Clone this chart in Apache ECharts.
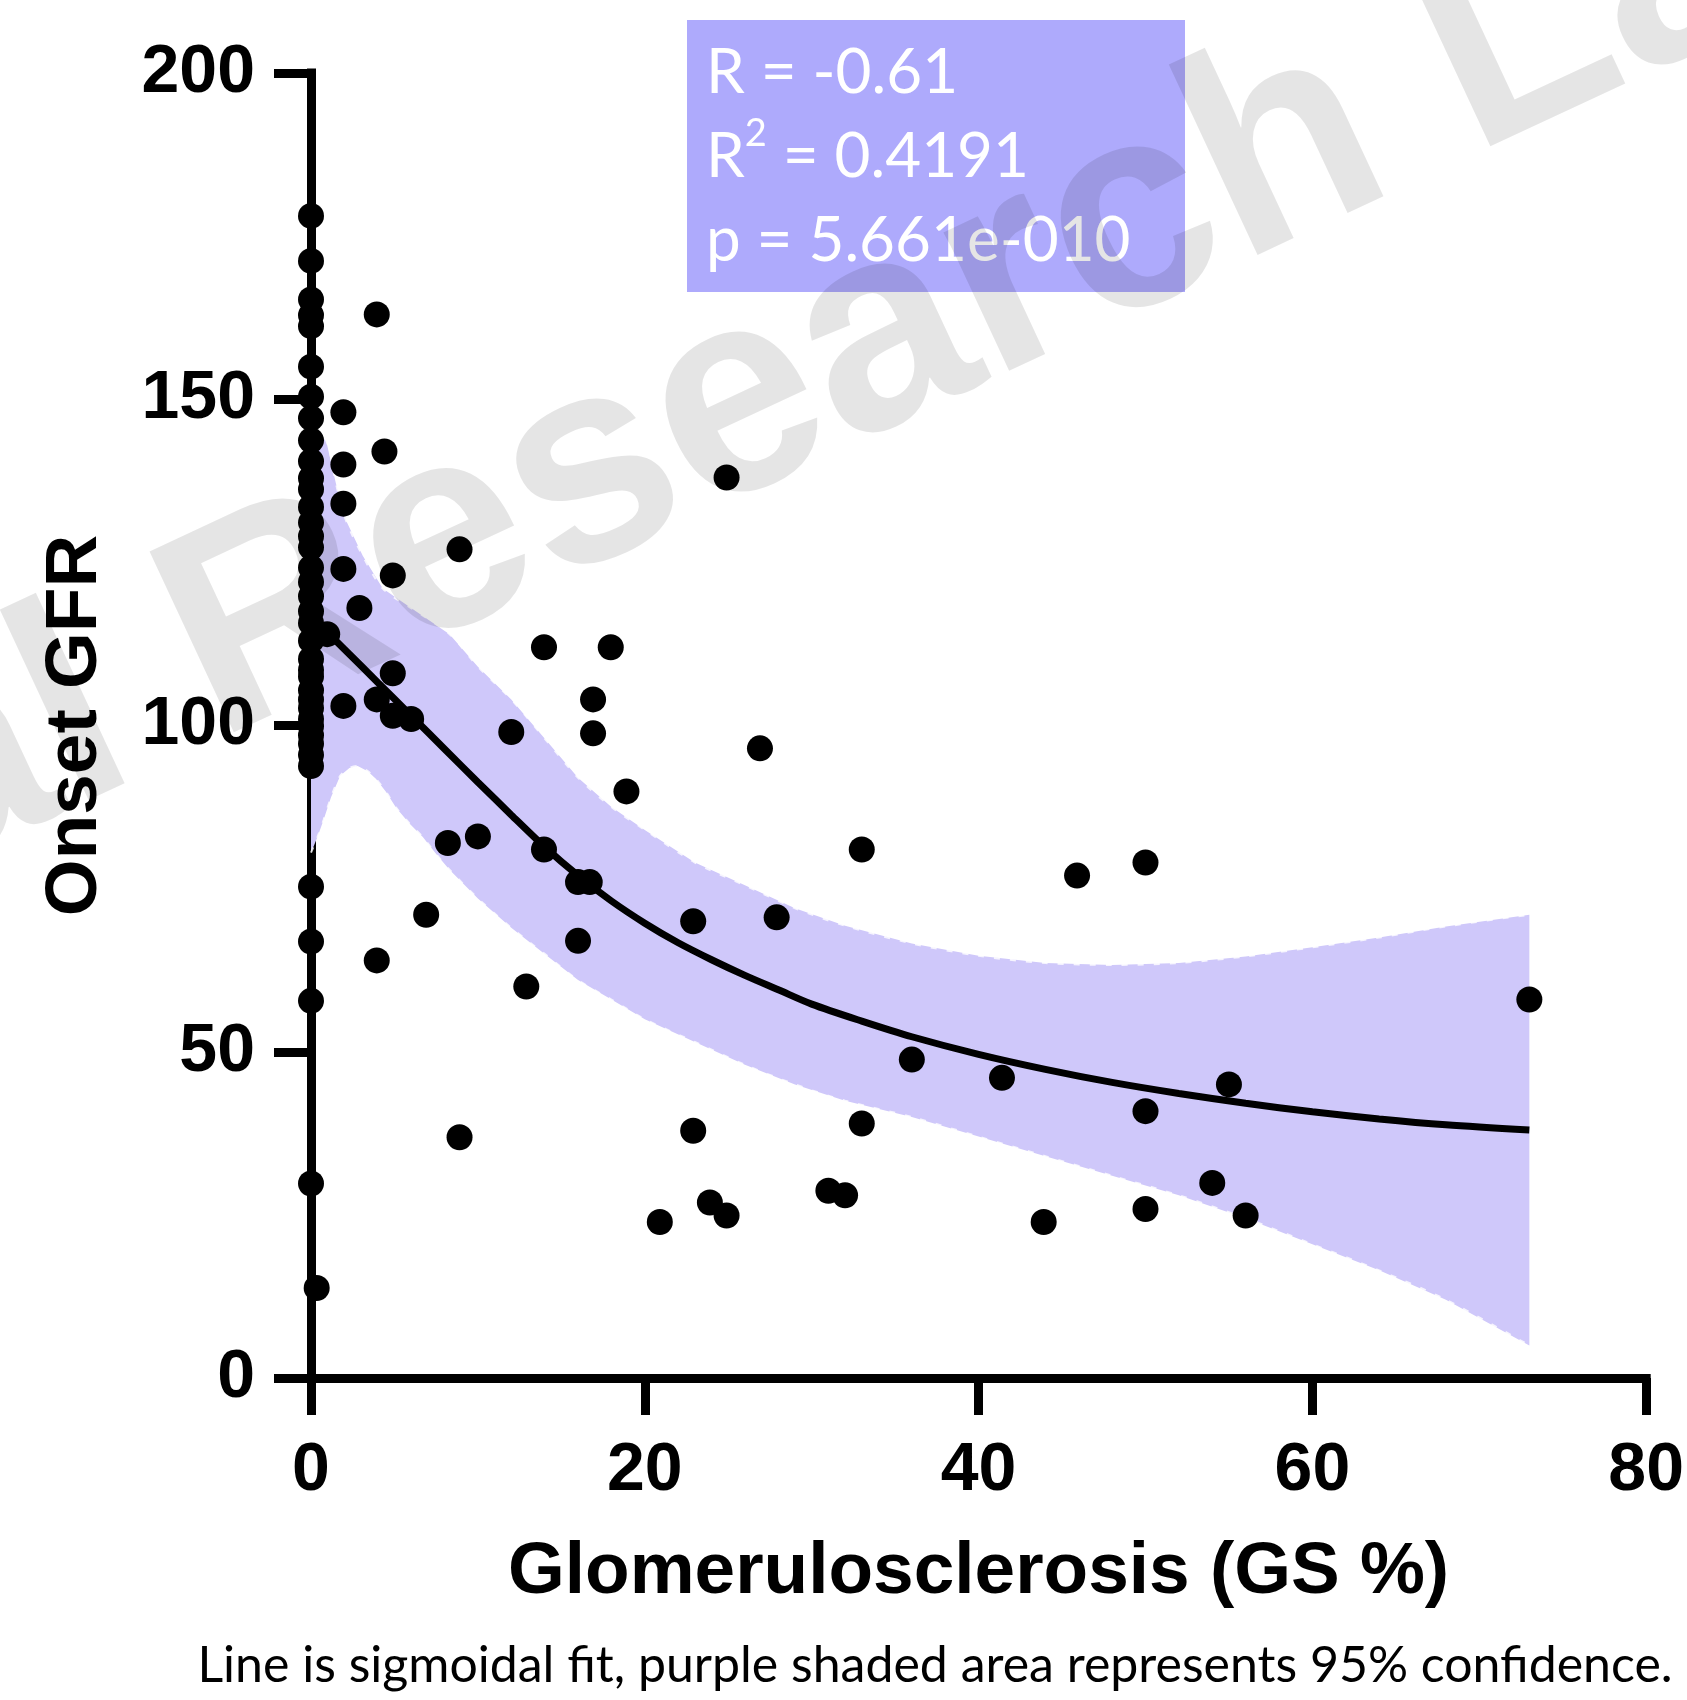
<!DOCTYPE html>
<html lang="en">
<head>
    <meta charset="UTF-8">
    <title>Onset GFR vs GS</title>
    <script src="https://cdn.jsdelivr.net/npm/echarts@6/dist/echarts.min.js"></script>
    <style>
        html,body{margin:0;padding:0;background:#fff;}
        #chart{width:1687px;height:1700px;}
    </style>
</head>
<body>
    <div id="chart"></div>
    <script>
        // scatter points
        let gsPct=[
            0,0,0,0,0,0,0,0,0,0,0,0,0,0,0,0,0,0,0,0,0,0,0,0,0,0,0,0,0,0,0,0,0,0,0,0,0,0,0.34,
            3.94,1.94,4.4,1.94,1.94,24.9,8.9,1.94,4.9,2.9,0.97,13.96,17.96,4.9,16.9,3.94,1.94,4.9,6.0,12,16.9,26.9,
            18.9,8.2,10,13.96,33,16,16.7,45.9,50,6.9,27.9,22.9,16,3.94,12.9,73,36,41.4,55,50,33,8.9,22.9,
            54,31,32,23.9,24.9,20.9,43.9,50,56
        ];
        let onsetGfr=[
            178.1,171.2,165.3,162.9,161.2,155.0,150.4,147.1,143.7,140.5,137.9,136.2,133.5,131.1,129,127.3,124.2,122,119.8,117.5,
            115.7,113,110.2,108.5,107.5,105.4,104,102.7,101,99.9,98.5,97.2,95.5,93.8,75.3,66.9,57.8,29.8,13.8,
            163,148,142,140,134,138,127,124,123,118,114,112,112,108,104,104,103,101.5,101,99,98.8,96.5,
            89.9,82,83,81,81,76,76,77,79,71,70.6,70,67,64,60,58,48.8,46,45,40.9,39,36.9,37.9,
            29.9,28.7,28,26.9,24.9,23.9,23.9,25.9,24.9
        ];
        // sigmoidal fit line
        let fitX=[0.5,2,4,6,8,10,12,14,16,18,20,22,24,26,28,30,33,36,40,44,48,52,56,60,64,68,73];
        let fitY=[115.5,111.7,106.6,101.5,96.4,91.3,86.3,81.4,77.0,73.1,69.7,66.7,64.1,61.7,59.5,57.3,54.7,52.3,49.6,47.3,45.3,43.6,42.1,40.8,39.7,38.8,38.0];
        // 95% confidence band
        let upperX=[0,0.9,1.5,2.1,3.1,4.3,6,8.3,10,12,14,16,18,20,23,26,29,32,36,40,44,48,52,56,60,64,68,73];
        let upperY=[145,143.7,137,131.4,126,121,118,114,109,104,98,92,87.5,84,79,75.5,72,69.3,66.6,64.7,63.6,63.3,63.6,64.6,66,67.5,69.2,71];
        let lowerX=[0,0.4,0.75,1.2,1.75,2.3,2.8,3.4,3.9,4.5,5.1,5.9,6.7,7.5,8.3,10,12,14,16,18,20,23,26,29,32,36,40,44,48,52,56,60,64,68,73];
        let lowerY=[80.5,83,85.5,89,92.3,93.5,93.8,93,91.8,89.8,87.4,85,82.9,80.3,77.9,73.5,69,65,61,58,55,51.5,48,45,42.5,40,37,34,31,28,24.5,20.5,16.5,12,5];
        // axis ticks
        let xTicks=[0,20,40,60,80];
        let yTicks=[0,50,100,150,200];
        let statsLines=['R = -0.61','R2 = 0.4191','p = 5.661e-010'];
        let caption='Line is sigmoidal fit, purple shaded area represents 95% confidence.';
        let watermark='Renal Research Lab';

        let points=gsPct.map((x,i)=>[x,onsetGfr[i]]);
        let fitData=fitX.map((x,i)=>[x,fitY[i]]);
        let upperData=upperX.map((x,i)=>[x,upperY[i]]);
        let lowerData=lowerX.map((x,i)=>[x,lowerY[i]]);

        let axisFont='Liberation Sans';
        let myCharts=echarts.init(document.getElementById('chart'));
        let options={
            animation:false,
            grid:{left:311,right:30,top:73,bottom:322,containLabel:false},
            xAxis:{
                type:'value',
                min:xTicks[0],
                max:xTicks[xTicks.length-1],
                interval:xTicks[1]-xTicks[0],
                name:'Glomerulosclerosis (GS %)',
                nameLocation:'middle',
                nameGap:158,
                nameTextStyle:{fontFamily:axisFont,fontWeight:'bold',fontSize:73,color:'#000'},
                axisLine:{onZero:false,lineStyle:{color:'#000',width:9,cap:'square'}},
                axisTick:{length:37,lineStyle:{color:'#000',width:9}},
                axisLabel:{fontFamily:axisFont,fontWeight:'bold',fontSize:68,color:'#000',margin:93,verticalAlign:'middle'},
                splitLine:{show:false},
            },
            yAxis:{
                type:'value',
                min:yTicks[0],
                max:yTicks[yTicks.length-1],
                interval:yTicks[1]-yTicks[0],
                name:'Onset GFR',
                nameLocation:'middle',
                nameGap:199,
                nameTextStyle:{fontFamily:axisFont,fontWeight:'bold',fontSize:73,color:'#000'},
                axisLine:{show:true,onZero:false,lineStyle:{color:'#000',width:9,cap:'square'}},
                axisTick:{show:true,length:37,lineStyle:{color:'#000',width:9}},
                axisLabel:{fontFamily:axisFont,fontWeight:'bold',fontSize:68,color:'#000',margin:56},
                splitLine:{show:false},
            },
            series:[
                {
                    name:'band',
                    type:'custom',
                    z:1,
                    data:[[0,0]],
                    renderItem:function(params,api){
                        let pts=[];
                        upperData.forEach((p)=>{pts.push(api.coord(p));});
                        for(let i=lowerData.length-1;i>=0;i--){
                            pts.push(api.coord(lowerData[i]));
                        }
                        return {type:'polygon',shape:{points:pts},style:{fill:'#cfc8fa'}};
                    },
                },
                {
                    name:'upperEdge',
                    type:'line',
                    z:1,
                    data:upperData,
                    symbol:'none',
                    smooth:0.3,
                    lineStyle:{color:'#fff',width:2,type:[6,10],opacity:0.8},
                },
                {
                    name:'lowerEdge',
                    type:'line',
                    z:1,
                    data:lowerData,
                    symbol:'none',
                    smooth:0.3,
                    lineStyle:{color:'#fff',width:2,type:[6,10],opacity:0.8},
                },
                {
                    name:'fit',
                    type:'line',
                    z:3,
                    data:fitData,
                    symbol:'none',
                    smooth:0.3,
                    lineStyle:{color:'#000',width:7},
                },
                {
                    name:'GFR',
                    type:'scatter',
                    z:4,
                    data:points,
                    symbol:'circle',
                    symbolSize:26,
                    itemStyle:{color:'#000',opacity:1},
                },
            ],
            graphic:[
                {
                    type:'rect',
                    z:5,
                    shape:{x:687,y:20,width:498,height:272},
                    style:{fill:'#aeaafc'},
                },
                {
                    type:'text',
                    z:6,
                    x:706,
                    y:31,
                    style:{
                        text:'{r|'+statsLines[0]+'}\n{r|R}{s|2}{r|'+statsLines[1].slice(2)+'}\n{r|'+statsLines[2]+'}',
                        align:'left',
                        verticalAlign:'top',
                        rich:{
                            r:{fontFamily:'Lato',fontSize:62,lineHeight:84,fill:'#fff'},
                            s:{fontFamily:'Lato',fontSize:38,lineHeight:58,verticalAlign:'top',fill:'#fff'},
                        },
                    },
                },
                {
                    type:'text',
                    z:7,
                    x:935,
                    y:1666,
                    style:{
                        text:caption,
                        fontFamily:'Lato',
                        fontSize:50,
                        fill:'#000',
                        align:'center',
                        verticalAlign:'middle',
                    },
                },
                {
                    type:'text',
                    z:100,
                    x:650,
                    y:450,
                    rotation:25*Math.PI/180,
                    silent:true,
                    style:{
                        text:watermark,
                        fontFamily:axisFont,
                        fontWeight:'bold',
                        fontSize:290,
                        fill:'rgba(0,0,0,0.1)',
                        align:'center',
                        verticalAlign:'middle',
                    },
                },
            ],
        };
        myCharts.setOption(options);
    </script>
</body>
</html>
